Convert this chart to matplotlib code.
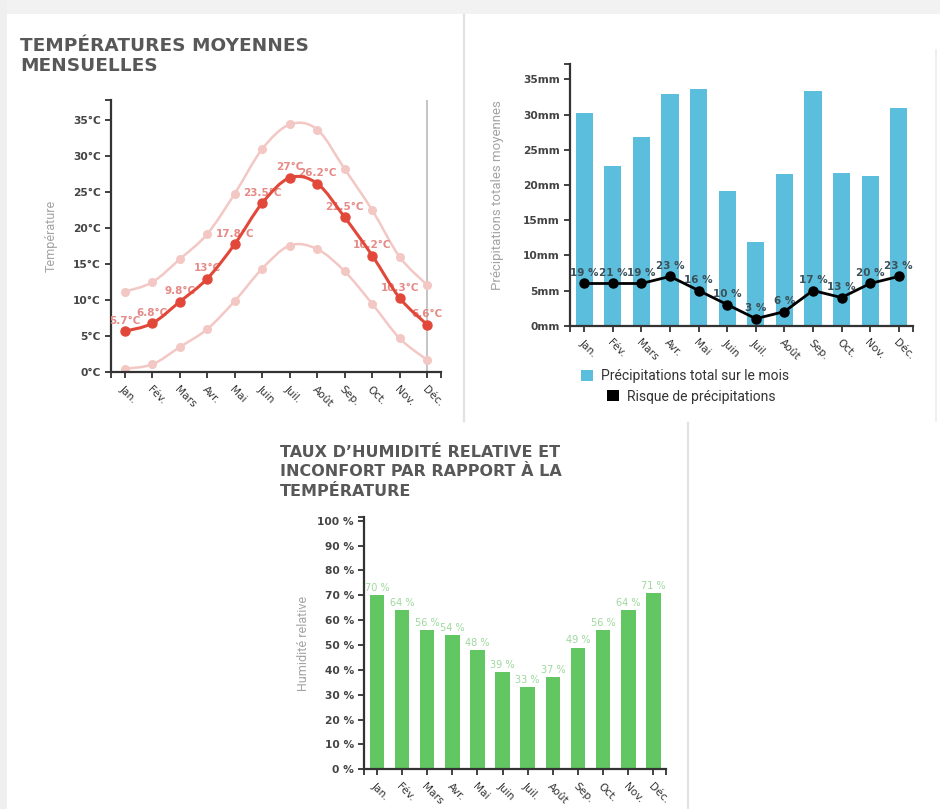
import numpy as np
import matplotlib.pyplot as plt
from matplotlib.path import Path
from matplotlib.patches import PathPatch, Rectangle, Patch
from matplotlib.lines import Line2D

# ── données ──────────────────────────────────────────
mois = ["Jan.", "Fév.", "Mars", "Avr.", "Mai", "Juin",
        "Juil.", "Août", "Sep.", "Oct.", "Nov.", "Déc."]
temp_moy = [5.7, 6.8, 9.8, 13, 17.8, 23.5, 27, 26.2, 21.5, 16.2, 10.3, 6.6]
temp_max = [11.2, 12.5, 15.7, 19.2, 24.8, 31.0, 34.4, 33.7, 28.2, 22.5, 16.0, 12.1]
temp_min = [0.5, 1.1, 3.5, 6.0, 9.9, 14.4, 17.6, 17.1, 14.0, 9.5, 4.7, 1.7]
precip_mm = [30.3, 22.7, 26.8, 33.0, 33.7, 19.1, 11.9, 21.5, 33.3, 21.7, 21.3, 30.9]
risque_pct = [19, 21, 19, 23, 16, 10, 3, 6, 17, 13, 20, 23]
risque_pos = [6, 6, 6, 7, 5, 3, 1, 2, 5, 4, 6, 7]  # hauteur du point sur l'axe mm
humidite = [70, 64, 56, 54, 48, 39, 33, 37, 49, 56, 64, 71]

temp_ticks = [0, 5, 10, 15, 20, 25, 30, 35]
precip_ticks = [0, 5, 10, 15, 20, 25, 30, 35]
hum_ticks = [0, 10, 20, 30, 40, 50, 60, 70, 80, 90, 100]

W, H = 940, 809
plt.rcParams["font.family"] = ["DejaVu Sans"]

AXIS_C = "#333333"
TICK_C = "#444444"
TITLE_C = "#585858"
YLAB_C = "#a3a3a3"


def px_box(left, top, right, bottom):
    return [left / W, 1 - bottom / H, (right - left) / W, (bottom - top) / H]


def fx(x):
    return x / W


def fy(y):
    return 1 - y / H


def style_axes(ax, ytop, yticks, fmt):
    n = len(mois)
    ax.set_xlim(-0.5, n - 0.5)
    ax.set_ylim(0, ytop)
    for s in ("top", "right"):
        ax.spines[s].set_visible(False)
    for s in ("left", "bottom"):
        ax.spines[s].set_color(AXIS_C)
        ax.spines[s].set_linewidth(1.6)
    ax.set_xticks(range(n))
    ax.set_xticklabels(mois, rotation=-45, ha="left", va="top",
                       rotation_mode="anchor", color="#333333")
    ax.set_yticks(yticks)
    ax.set_yticklabels([fmt(v) for v in yticks])
    # ticks extérieurs aux extrémités du domaine (style d3)
    ax.set_xticks([-0.5, n - 0.5], minor=True)
    ax.set_yticks([ytop], minor=True)
    ax.tick_params(which="both", direction="out", length=4.5, width=1.3,
                   color=AXIS_C, labelsize=7.7, pad=3)
    ax.tick_params(axis="y", labelcolor=TICK_C)
    ax.tick_params(axis="x", which="major", pad=4)
    for lab in ax.get_yticklabels():
        lab.set_fontweight("semibold")
    ax.set_facecolor("none")


def courbe(ax, y, **kw):
    x = np.arange(len(y), dtype=float)
    pts = np.column_stack([x, np.asarray(y, float)])
    ext = np.vstack([pts[0], pts, pts[-1]])
    verts = [pts[0]]
    codes = [Path.MOVETO]
    for i in range(len(pts) - 1):
        p0, p1, p2, p3 = ext[i], ext[i + 1], ext[i + 2], ext[i + 3]
        verts += [p1 + (p2 - p0) / 6, p2 - (p3 - p1) / 6, p2]
        codes += [Path.CURVE4] * 3
    ax.add_patch(PathPatch(Path(verts, codes), fill=False, **kw))


fig = plt.figure(figsize=(W / 100, H / 100), dpi=100, facecolor="white")

# ── fond de page (bandeaux gris, séparateurs des cartes) ──
fig.patches.append(Rectangle((0, fy(14)), 1, 14 / H, transform=fig.transFigure,
                             facecolor="#f2f2f2", edgecolor="none", zorder=0))
fig.patches.append(Rectangle((0, 0), fx(7), 1, transform=fig.transFigure,
                             facecolor="#efefef", edgecolor="none", zorder=0))
fig.add_artist(Line2D([fx(464), fx(464)], [fy(15), fy(421)], color="#e2e2e2",
                      lw=1.6, transform=fig.transFigure))
fig.add_artist(Line2D([fx(688), fx(688)], [fy(423), 0], color="#e2e2e2",
                      lw=1.6, transform=fig.transFigure))
fig.add_artist(Line2D([fx(936), fx(936)], [fy(50), fy(421)], color="#ececec",
                      lw=1.2, transform=fig.transFigure))

# ── titres ───────────────────────────────────────────
for txt, base in zip(["TEMPÉRATURES MOYENNES", "MENSUELLES"], [51, 71]):
    fig.text(fx(20), fy(base), txt, fontsize=13.3, color=TITLE_C,
             fontweight="bold", ha="left", va="baseline")
for txt, base in zip(["TAUX D’HUMIDITÉ RELATIVE ET",
                      "INCONFORT PAR RAPPORT À LA", "TEMPÉRATURE"],
                     [457, 476.5, 495.5]):
    fig.text(fx(280), fy(base), txt, fontsize=11.5, color=TITLE_C,
             fontweight="bold", ha="left", va="baseline")

x = np.arange(len(mois))

# ── 1. températures ─────────────────────────────────
ax1 = fig.add_axes(px_box(111, 100, 441, 372.3))
style_axes(ax1, 37.8, temp_ticks, lambda v: f"{v}°C")
ax1.axvline(len(mois) - 1, color="#c4c4c4", lw=1.4, zorder=0.5)
light = "#f3c8c4"
for serie in (temp_max, temp_min):
    courbe(ax1, serie, edgecolor=light, lw=1.8, zorder=2)
    ax1.plot(x, serie, "o", color=light, ms=5.5, zorder=2.5)
for xi, v in zip(x, temp_moy):
    ax1.annotate(f"{v:g}°C", (xi, v), xytext=(0, 7.5), textcoords="offset points",
                 ha="center", va="center", fontsize=7.5, color="#e58a86",
                 fontweight="semibold", zorder=2.8)
courbe(ax1, temp_moy, edgecolor="#e2483a", lw=2.2, zorder=3)
ax1.plot(x, temp_moy, "o", color="#e2483a", ms=6.5, zorder=3.5)
ax1.text(-0.18, 0.5, "Température", transform=ax1.transAxes, rotation=90,
         ha="center", va="center", fontsize=9, color=YLAB_C, family="Roboto")

# ── 2. précipitations ───────────────────────────────
ax2 = fig.add_axes(px_box(570, 64, 913, 325.7))
style_axes(ax2, 37.2, precip_ticks, lambda v: f"{v}mm")
ax2.bar(x, precip_mm, width=0.6, color="#5bbedc", zorder=1)
for xi, v, p in zip(x, risque_pos, risque_pct):
    ax2.annotate(f"{p} %", (xi, v), xytext=(0, 7.5), textcoords="offset points",
                 ha="center", va="center", fontsize=7.5, color="#3b5058",
                 fontweight="semibold", zorder=2.5)
ax2.plot(x, risque_pos, "-o", color="black", lw=2, ms=6.5, zorder=3)
ax2.text(-0.21, 0.5, "Précipitations totales moyennes", transform=ax2.transAxes,
         rotation=90, ha="center", va="center", fontsize=9.5, color=YLAB_C,
         family="Roboto")

leg_kw = dict(frameon=False, handlelength=0.85, handleheight=0.85,
              handletextpad=0.6, borderpad=0, borderaxespad=0,
              prop={"family": "Roboto", "size": 10})
l1 = fig.legend([Patch(facecolor="#5bbedc")], ["Précipitations total sur le mois"],
                loc="center", bbox_to_anchor=(fx(685), fy(376)), **leg_kw)
l2 = fig.legend([Patch(facecolor="black")], ["Risque de précipitations"],
                loc="center", bbox_to_anchor=(fx(691.5), fy(396.5)), **leg_kw)
for leg in (l1, l2):
    for t in leg.get_texts():
        t.set_color("#333333")

# ── 3. humidité ─────────────────────────────────────
ax3 = fig.add_axes(px_box(364.3, 517, 666, 769.3))
style_axes(ax3, 101.5, hum_ticks, lambda v: f"{v} %")
ax3.bar(x, humidite, width=0.58, color="#62c762", zorder=1)
for xi, v in zip(x, humidite):
    ax3.annotate(f"{v} %", (xi, v), xytext=(0, 1.5), textcoords="offset points",
                 ha="center", va="bottom", fontsize=7, color="#9ed89e", zorder=4)
ax3.text(-0.202, 0.5, "Humidité relative", transform=ax3.transAxes, rotation=90,
         ha="center", va="center", fontsize=9, color=YLAB_C, family="Roboto")

fig.savefig("out.png", dpi=100, facecolor="white")
